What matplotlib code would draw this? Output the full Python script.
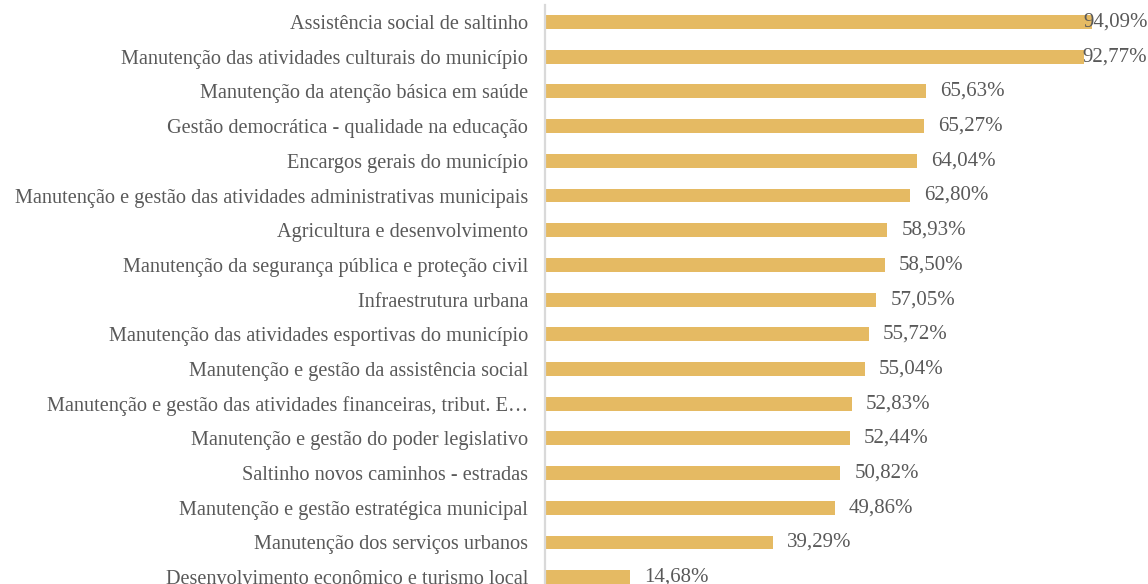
import matplotlib as mpl
import matplotlib.pyplot as plt

categorias = [
    "Assistência social de saltinho",
    "Manutenção das atividades culturais do município",
    "Manutenção da atenção básica em saúde",
    "Gestão democrática - qualidade na educação",
    "Encargos gerais do município",
    "Manutenção e gestão das atividades administrativas municipais",
    "Agricultura e desenvolvimento",
    "Manutenção da segurança pública e proteção civil",
    "Infraestrutura urbana",
    "Manutenção das atividades esportivas do município",
    "Manutenção e gestão da assistência social",
    "Manutenção e gestão das atividades financeiras, tribut. E…",
    "Manutenção e gestão do poder legislativo",
    "Saltinho novos caminhos - estradas",
    "Manutenção e gestão estratégica municipal",
    "Manutenção dos serviços urbanos",
    "Desenvolvimento econômico e turismo local",
]
valores = [94.09, 92.77, 65.63, 65.27, 64.04, 62.80, 58.93, 58.50, 57.05,
           55.72, 55.04, 52.83, 52.44, 50.82, 49.86, 39.29, 14.68]

cor_barra = "#E5BA63"
cor_texto = "#595959"
mpl.rcParams['font.family'] = ['Liberation Serif', 'DejaVu Serif']

dpi = 100
fig = plt.figure(figsize=(11.48, 5.84), dpi=dpi)
ax = fig.add_axes([545 / 1148, 0, 1 - 545 / 1148, 1])

posicoes = list(range(len(valores)))
ax.barh(posicoes, valores, height=0.40, color=cor_barra)

xmax = (1148 - 545) / 5.81
ax.set_xlim(0, xmax)
ax.set_ylim((584 - 22) / 34.7, -22 / 34.7)

ax.set_yticks(posicoes)
ax.set_yticklabels(categorias, fontsize=14.6, color=cor_texto)
ax.tick_params(axis='y', length=0, pad=12)
ax.set_xticks([])

for s in ['top', 'right', 'bottom']:
    ax.spines[s].set_visible(False)
ax.spines['left'].set_color('#D9D9D9')
ax.spines['left'].set_linewidth(1.6)
ax.spines['left'].set_bounds(-0.49, (584 - 22) / 34.7)

for p, v in zip(posicoes, valores):
    txt = "{:.2f}%".format(v).replace(".", ",")
    if v + 2.4 + 10.7 > xmax:
        ax.text(xmax - 0.1, p, txt, ha='right', va='center',
                fontsize=15, color=cor_texto, clip_on=False)
    else:
        ax.text(v + 2.4, p, txt, ha='left', va='center',
                fontsize=15, color=cor_texto, clip_on=False)

fig.savefig("out.png", dpi=dpi)
